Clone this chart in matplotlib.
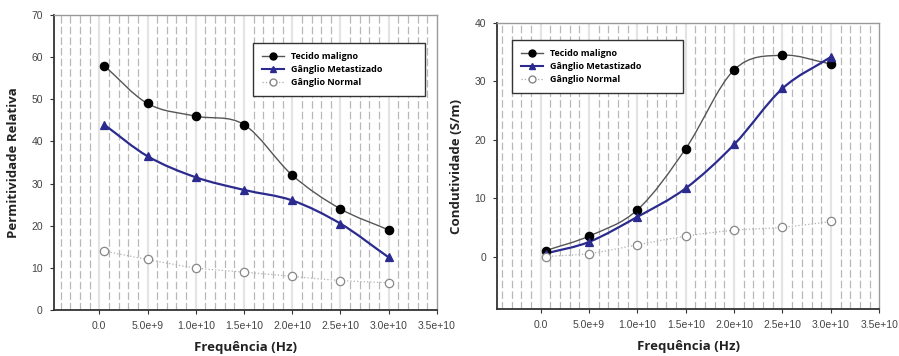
import numpy as np
import matplotlib
matplotlib.use("Agg")
import matplotlib.pyplot as plt
from matplotlib.path import Path
from matplotlib.patches import PathPatch
from matplotlib.lines import Line2D

# Frequencies (Hz)
freq = [0.05e10, 0.5e10, 1.0e10, 1.5e10, 2.0e10, 2.5e10, 3.0e10]

# Relative permittivity
perm_maligno = [58, 49, 46, 44, 32, 24, 19]
perm_metastizado = [44, 36.5, 31.5, 28.5, 26, 20.5, 12.5]
perm_normal = [14, 12, 10, 9, 8, 7, 6.5]

# Conductivity (S/m)
cond_maligno = [1.0, 3.5, 8.0, 18.5, 32.0, 34.5, 33.0]
cond_metastizado = [0.5, 2.5, 6.8, 11.7, 19.2, 28.8, 34.2]
cond_normal = [0.0, 0.5, 2.0, 3.5, 4.5, 5.0, 6.0]

series_names = ["Tecido maligno", "Gânglio Metastizado", "Gânglio Normal"]
xtick_vals = [0, 0.5e10, 1.0e10, 1.5e10, 2.0e10, 2.5e10, 3.0e10, 3.5e10]
xtick_labels = ["0.0", "5.0e+9", "1.0e+10", "1.5e+10", "2.0e+10",
                "2.5e+10", "3.0e+10", "3.5e+10"]

TICK_FONT = dict(family="Liberation Sans", size=7.5, color="#444444")
LABEL_FONT = dict(family="Open Sans", size=9.5, weight="bold", color="#222222")
LEG_FONT = dict(family="Open Sans", size=6.5, weight="bold")

NAVY = "#2b2b8f"


def smooth_path(x, y):
    """Cubic Hermite curve through the points, built as Bezier segments."""
    x = np.asarray(x, float)
    y = np.asarray(y, float)
    n = len(x)
    m = np.zeros(n)
    for i in range(n):
        if i == 0:
            m[i] = (y[1] - y[0]) / (x[1] - x[0])
        elif i == n - 1:
            m[i] = (y[-1] - y[-2]) / (x[-1] - x[-2])
        else:
            m[i] = (y[i + 1] - y[i - 1]) / (x[i + 1] - x[i - 1])
    verts = [(x[0], y[0])]
    codes = [Path.MOVETO]
    for i in range(n - 1):
        h = x[i + 1] - x[i]
        verts += [(x[i] + h / 3, y[i] + m[i] * h / 3),
                  (x[i + 1] - h / 3, y[i + 1] - m[i + 1] * h / 3),
                  (x[i + 1], y[i + 1])]
        codes += [Path.CURVE4] * 3
    return Path(verts, codes)


def draw_series(ax, x, y, color, lw, ls, marker, mfc, mec, ms):
    patch = PathPatch(smooth_path(x, y), facecolor="none", edgecolor=color,
                      lw=lw, linestyle=ls, zorder=3)
    ax.add_patch(patch)
    ax.plot(x, y, linestyle="none", marker=marker, mfc=mfc, mec=mec,
            ms=ms, mew=0.9, zorder=4)


def style_axes(ax, xlim, ylim, yticks):
    ax.set_xlim(*xlim)
    ax.set_ylim(*ylim)
    # minor dashed grid every 1e9, lighter solid lines at the major ticks
    minor = np.arange(np.ceil(xlim[0] / 1e9), 35) * 1e9
    for v in minor:
        if abs(v / 5e9 - round(v / 5e9)) < 1e-6:
            ax.axvline(v, color="#e4e4e4", lw=1.6, zorder=1)
        else:
            ax.axvline(v, color="#b8b8b8", lw=0.9, ls=(0, (6, 2.5)), zorder=1)
    ax.set_xticks(xtick_vals)
    ax.set_xticklabels(xtick_labels, fontdict=TICK_FONT)
    ax.set_yticks(yticks)
    ax.set_yticklabels([str(v) for v in yticks], fontdict=TICK_FONT)
    ax.tick_params(axis="both", length=3, width=0.8, color="#333333", pad=5)
    for s in ("left", "bottom"):
        ax.spines[s].set_color("#333333")
        ax.spines[s].set_linewidth(1.3)
    for s in ("top", "right"):
        ax.spines[s].set_color("#9a9a9a")
        ax.spines[s].set_linewidth(1.0)
    ax.set_xlabel("Frequência (Hz)", fontdict=LABEL_FONT, labelpad=7)


def add_legend(ax, bbox):
    handles = [
        Line2D([], [], color="#555555", lw=1.0, marker="o", mfc="black",
               mec="black", ms=5),
        Line2D([], [], color=NAVY, lw=1.5, marker="^", mfc=NAVY, mec=NAVY,
               ms=5),
        Line2D([], [], color="#aaaaaa", lw=0.9, ls=":", marker="o",
               mfc="white", mec="#888888", ms=5),
    ]
    leg = ax.legend(handles, series_names, loc="upper left",
                    bbox_to_anchor=bbox, mode="expand", borderaxespad=0,
                    prop=LEG_FONT, handlelength=2.4, handletextpad=0.8,
                    labelspacing=0.45, borderpad=1.0, fancybox=False,
                    framealpha=1, edgecolor="#333333")
    leg.get_frame().set_linewidth(1.0)
    leg.set_zorder(5)


fig = plt.figure(figsize=(8.99, 3.56), dpi=100)

# Permittivity panel
ax1 = fig.add_axes([0.060, 0.129, 0.426, 0.829])
style_axes(ax1, (-4.7e9, 3.5e10), (0, 70), list(range(0, 71, 10)))
draw_series(ax1, freq, perm_maligno, "#555555", 1.0, "-", "o", "black", "black", 6)
draw_series(ax1, freq, perm_metastizado, NAVY, 1.6, "-", "^", NAVY, NAVY, 6)
draw_series(ax1, freq, perm_normal, "#b0b0b0", 0.9, ":", "o", "white", "#888888", 6)
ax1.set_ylabel("Permitividade Relativa", fontdict=LABEL_FONT, labelpad=8)
add_legend(ax1, (0.52, 0.719, 0.449, 0.186))

# Conductivity panel
ax2 = fig.add_axes([0.553, 0.132, 0.425, 0.803])
style_axes(ax2, (-4.5e9, 3.5e10), (-9, 40), list(range(0, 41, 10)))
draw_series(ax2, freq, cond_maligno, "#555555", 1.0, "-", "o", "black", "black", 6)
draw_series(ax2, freq, cond_metastizado, NAVY, 1.6, "-", "^", NAVY, NAVY, 6)
draw_series(ax2, freq, cond_normal, "#b0b0b0", 0.9, ":", "o", "white", "#888888", 6)
ax2.set_ylabel("Condutividade (S/m)", fontdict=LABEL_FONT, labelpad=8)
add_legend(ax2, (0.039, 0.745, 0.448, 0.195))

fig.savefig("out.png", dpi=100)
